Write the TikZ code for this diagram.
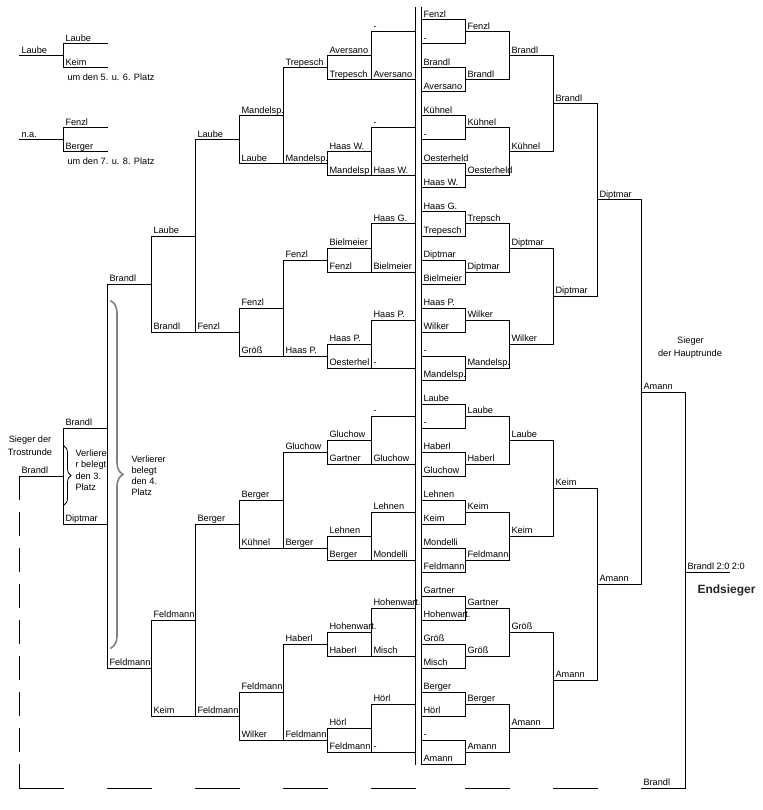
\documentclass[tikz,border=0pt]{standalone}
\usepackage{fontspec}
\setmainfont{Liberation Sans}
\usetikzlibrary{decorations.pathreplacing}
\begin{document}
\begin{tikzpicture}[x=1pt,y=-1pt,line width=1pt,line cap=rect,
  lab/.style={anchor=base west,inner sep=0pt,font=\fontsize{9.2}{11}\selectfont,xshift=2pt,yshift=2.5pt},
  txt/.style={anchor=base,inner sep=0pt,font=\fontsize{9.2}{11}\selectfont},
  txtl/.style={anchor=base west,inner sep=0pt,font=\fontsize{9.2}{11}\selectfont},
  bar/.style={draw=black,line width=1pt}]
\useasboundingbox (0,0) rectangle (762,810);
% ---------- horizontal segments with labels ----------
\foreach \xa/\xb/\yy/\t [count=\i] in {
  371/415/32/-, 371/415/80/Aversano, 371/415/128/-, 371/415/176/Haas W.,
  371/415/224/Haas G., 371/415/272/Bielmeier, 371/415/320/Haas P., 371/415/368/-,
  371/415/416/-, 371/415/464/Gluchow, 371/415/512/Lehnen, 371/415/560/Mondelli,
  371/415/608/Hohenwart., 371/415/656/Misch, 371/415/704/Hörl, 371/415/752/-,
  327/371/56/Aversano, 327/371/80/Trepesch, 327/371/152/Haas W., 327/371/176/Mandelsp,
  327/371/248/Bielmeier, 327/371/272/Fenzl, 327/371/344/Haas P., 327/371/368/Oesterhel,
  327/371/440/Gluchow, 327/371/464/Gartner, 327/371/536/Lehnen, 327/371/560/Berger,
  327/371/632/Hohenwart., 327/371/656/Haberl, 327/371/728/Hörl, 327/371/752/Feldmann,
  283/327/68/Trepesch, 283/327/164/Mandelsp., 283/327/260/Fenzl, 283/327/356/Haas P.,
  283/327/452/Gluchow, 283/327/548/Berger, 283/327/644/Haberl, 283/327/740/Feldmann,
  239/283/116/Mandelsp., 239/283/164/Laube, 239/283/308/Fenzl, 239/283/356/Größ,
  239/283/500/Berger, 239/283/548/Kühnel, 239/283/692/Feldmann, 239/283/740/Wilker,
  195/239/140/Laube, 195/239/332/Fenzl, 195/239/524/Berger, 195/239/716/Feldmann,
  151/195/236/Laube, 151/195/332/Brandl, 151/195/620/Feldmann, 151/195/716/Keim,
  107/151/284/Brandl, 107/151/668/Feldmann,
  63/107/428/Brandl, 63/107/524/Diptmar,
  63/107/44/Laube, 63/107/68/Keim, 63/107/128/Fenzl, 63/107/152/Berger,
  19/63/476/Brandl, 19/63/56/Laube, 19/63/140/n.a.,
  421/465/20/Fenzl, 421/465/44/-, 421/465/68/Brandl, 421/465/92/Aversano,
  421/465/116/Kühnel, 421/465/140/-, 421/465/164/Oesterheld, 421/465/188/Haas W.,
  421/465/212/Haas G., 421/465/236/Trepesch, 421/465/260/Diptmar, 421/465/284/Bielmeier,
  421/465/308/Haas P., 421/465/332/Wilker, 421/465/356/-, 421/465/380/Mandelsp.,
  421/465/404/Laube, 421/465/428/-, 421/465/452/Haberl, 421/465/476/Gluchow,
  421/465/500/Lehnen, 421/465/524/Keim, 421/465/548/Mondelli, 421/465/572/Feldmann,
  421/465/596/Gartner, 421/465/620/Hohenwart., 421/465/644/Größ, 421/465/668/Misch,
  421/465/692/Berger, 421/465/716/Hörl, 421/465/740/-, 421/465/764/Amann,
  465/509/32/Fenzl, 465/509/80/Brandl, 465/509/128/Kühnel, 465/509/176/Oesterheld,
  465/509/224/Trepsch, 465/509/272/Diptmar, 465/509/320/Wilker, 465/509/368/Mandelsp.,
  465/509/416/Laube, 465/509/464/Haberl, 465/509/512/Keim, 465/509/560/Feldmann,
  465/509/608/Gartner, 465/509/656/Größ, 465/509/704/Berger, 465/509/752/Amann,
  509/553/56/Brandl, 509/553/152/Kühnel, 509/553/248/Diptmar, 509/553/344/Wilker,
  509/553/440/Laube, 509/553/536/Keim, 509/553/632/Größ, 509/553/728/Amann,
  553/597/104/Brandl, 553/597/296/Diptmar, 553/597/488/Keim, 553/597/680/Amann,
  597/641/200/Diptmar, 597/641/584/Amann,
  641/685/392/Amann, 641/685/788/Brandl,
  685/729/572/Brandl 2:0 2:0}
{
  \draw[bar] (\xa,\yy) -- (\xb,\yy);
  \node[lab] (h\i) at (\xa,\yy) {\t};
}
% ---------- dashed bottom line segments ----------
\foreach \xa/\xb in {19/63,107/151,195/239,283/327,371/415,465/509,553/597}
  \draw[bar] (\xa,788) -- (\xb,788);
\draw[bar,line cap=butt,dash pattern=on 24pt off 12pt] (19,476) -- (19,788);
% ---------- vertical connectors ----------
\foreach \xx/\ya/\yb in {
  371/32/80, 371/128/176, 371/224/272, 371/320/368, 371/416/464, 371/512/560, 371/608/656, 371/704/752,
  327/56/80, 327/152/176, 327/248/272, 327/344/368, 327/440/464, 327/536/560, 327/632/656, 327/728/752,
  283/68/164, 283/260/356, 283/452/548, 283/644/740,
  239/116/164, 239/308/356, 239/500/548, 239/692/740,
  195/140/332, 195/524/716,
  151/236/332, 151/620/716,
  107/284/668,
  63/428/524, 63/44/68, 63/128/152,
  415.5/8/764, 421/8/764,
  597/104/296, 597/488/680, 641/200/584, 685/392/788}
  \draw[bar] (\xx,\ya) -- (\xx,\yb);
\foreach \k in {0,...,15} \draw[bar] (465,20+48*\k) -- (465,44+48*\k);
\foreach \k in {0,...,7} \draw[bar] (509,32+96*\k) -- (509,80+96*\k);
\foreach \k in {0,...,3} \draw[bar] (553,56+192*\k) -- (553,152+192*\k);
% ---------- braces ----------
\draw[line width=0.8pt,decorate,decoration={brace,amplitude=7pt}] (64,446) -- (64,505);
\draw[line width=1.6pt,draw=black!50,decorate,decoration={brace,amplitude=12pt}] (111,301) -- (111,648);
% ---------- texts ----------
\node[txtl] (t5) at (67,80.5) {um den 5. u. 6. Platz};
\node[txtl] (t7) at (67,164.5) {um den 7. u. 8. Platz};
\node[txt] (s1) at (30,442.5) {Sieger der};
\node[txt] (s2) at (30,455.5) {Trostrunde};
\node[txtl] (v1) at (75,456.5) {Verliere};
\node[txtl] (v2) at (75,467.5) {r belegt};
\node[txtl] (v3) at (75,479) {den 3.};
\node[txtl] (v4) at (75,490.5) {Platz};
\node[txtl] (w1) at (131,462.5) {Verlierer};
\node[txtl] (w2) at (131,473.5) {belegt};
\node[txtl] (w3) at (131,484.5) {den 4.};
\node[txtl] (w4) at (131,495.5) {Platz};
\node[txt] (h1a) at (690.5,343.5) {Sieger};
\node[txt] (h2a) at (690,356.5) {der Hauptrunde};
\node[anchor=base,inner sep=0pt,font=\fontsize{12}{14}\selectfont\bfseries,text=black!85] (end) at (726.5,593) {Endsieger};
\end{tikzpicture}
\end{document}
